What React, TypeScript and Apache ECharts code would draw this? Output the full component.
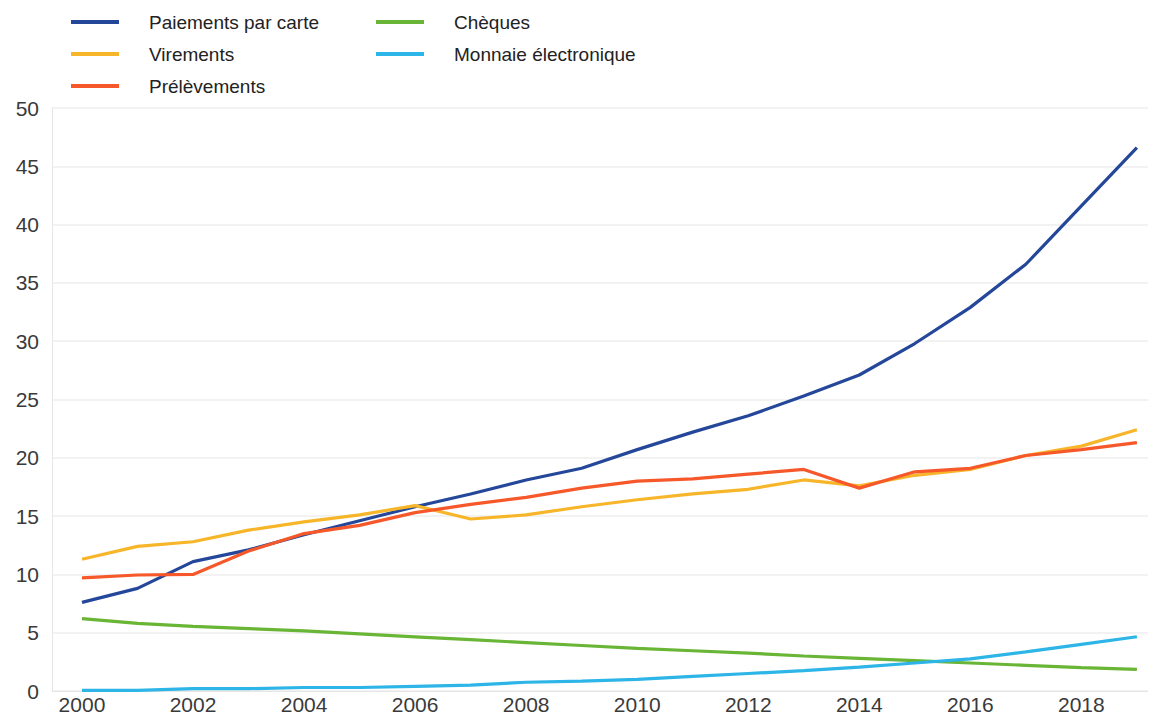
import React, { useEffect, useRef } from "react";
import * as echarts from "echarts";

const years = [2000, 2001, 2002, 2003, 2004, 2005, 2006, 2007, 2008, 2009, 2010, 2011, 2012, 2013, 2014, 2015, 2016, 2017, 2018, 2019];
const xTickLabels = [2000, 2002, 2004, 2006, 2008, 2010, 2012, 2014, 2016, 2018];

const cartes = [7.6, 8.8, 11.1, 12.1, 13.4, 14.6, 15.8, 16.9, 18.1, 19.1, 20.7, 22.2, 23.6, 25.3, 27.1, 29.8, 32.9, 36.6, 41.6, 46.6];
const virements = [11.3, 12.4, 12.8, 13.8, 14.5, 15.1, 15.9, 14.75, 15.1, 15.8, 16.4, 16.9, 17.3, 18.1, 17.6, 18.5, 19.0, 20.2, 21.0, 22.4];
const prelevements = [9.7, 9.95, 10.0, 12.0, 13.5, 14.2, 15.3, 16.0, 16.6, 17.4, 18.0, 18.2, 18.6, 19.0, 17.4, 18.8, 19.1, 20.2, 20.7, 21.3];
const cheques = [6.2, 5.8, 5.55, 5.35, 5.15, 4.9, 4.65, 4.4, 4.15, 3.9, 3.65, 3.45, 3.25, 3.0, 2.8, 2.6, 2.4, 2.2, 2.0, 1.85];
const monnaie = [0.05, 0.05, 0.2, 0.2, 0.3, 0.3, 0.4, 0.5, 0.75, 0.85, 1.0, 1.25, 1.5, 1.75, 2.05, 2.4, 2.75, 3.35, 4.0, 4.65];

const seriesDefs = [
  { name: "Paiements par carte", values: cartes, color: "#24479a" },
  { name: "Virements", values: virements, color: "#f7b52a" },
  { name: "Prélèvements", values: prelevements, color: "#f6582a" },
  { name: "Chèques", values: cheques, color: "#69b536" },
  { name: "Monnaie électronique", values: monnaie, color: "#2cb5e6" },
];

export default function App() {
  const ref = useRef<HTMLDivElement>(null);
  useEffect(() => {
    if (!ref.current) return;
    const chart = echarts.init(ref.current, undefined, { renderer: "svg" });
    const font = "'Liberation Sans', Arial, sans-serif";
    const legendCommon = {
      orient: "vertical" as const,
      padding: 0,
      itemWidth: 48,
      itemHeight: 4,
      itemGap: 12,
      icon: "rect",
      textStyle: {
        fontFamily: font,
        fontSize: 19,
        color: "#222",
        lineHeight: 20,
        padding: [0, 0, 0, 25],
      },
    };
    chart.setOption({
      animation: false,
      backgroundColor: "#ffffff",
      legend: [
        { ...legendCommon, left: 71, top: 12, data: ["Paiements par carte", "Virements", "Prélèvements"] },
        { ...legendCommon, left: 376, top: 12, data: ["Chèques", "Monnaie électronique"] },
      ],
      grid: { left: 52, right: 3, top: 108, bottom: 26, containLabel: false },
      xAxis: {
        type: "value",
        min: 1999.46,
        max: 2019.2,
        axisLine: { show: true, lineStyle: { color: "#e6e6e6", width: 1 } },
        axisTick: { show: false },
        splitLine: { show: false },
        axisLabel: {
          customValues: xTickLabels,
          formatter: (v: number) => String(Math.round(v)),
          fontFamily: font,
          fontSize: 21,
          color: "#3a3a3a",
          margin: 3,
        },
      },
      yAxis: {
        type: "value",
        min: 0,
        max: 50,
        interval: 5,
        axisLine: { show: true, lineStyle: { color: "#e6e6e6", width: 1 } },
        axisTick: { show: false },
        splitLine: { show: true, lineStyle: { color: "#eeeeee", width: 1.5 } },
        axisLabel: {
          fontFamily: font,
          fontSize: 21,
          color: "#3a3a3a",
          margin: 13,
        },
      },
      series: seriesDefs.map((s) => ({
        name: s.name,
        type: "line",
        data: years.map((y, i) => [y, s.values[i]]),
        showSymbol: false,
        symbol: "none",
        lineStyle: { color: s.color, width: 3.2 },
        itemStyle: { color: s.color },
        color: s.color,
      })),
    });
    return () => chart.dispose();
  }, []);
  return <div ref={ref} style={{ position: "fixed", left: 0, top: 0, width: 1151, height: 717 }} />;
}
